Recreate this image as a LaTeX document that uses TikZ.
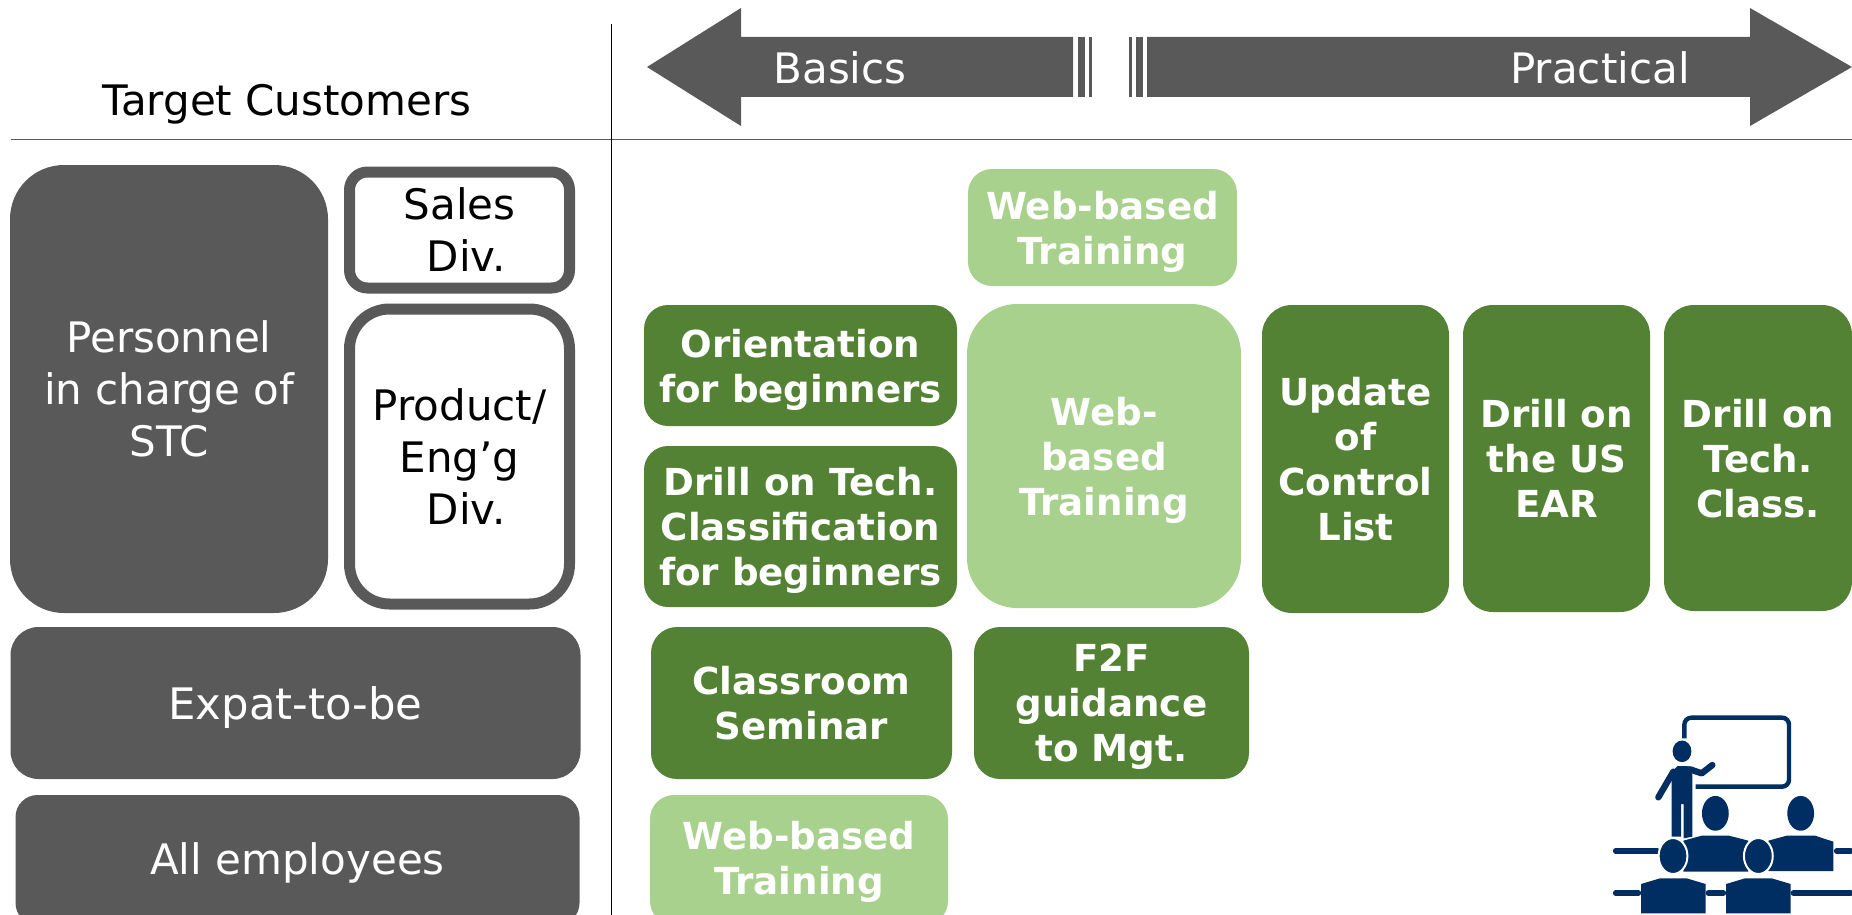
\documentclass[tikz,border=0pt]{standalone}
\usepackage{fontspec}
\setmainfont{DejaVu Sans}
\usepackage{xcolor}
\definecolor{greybox}{RGB}{89,89,89}
\definecolor{greenbox}{RGB}{84,130,53}
\definecolor{lightbox}{RGB}{169,209,142}
\definecolor{navyicon}{RGB}{0,45,98}
\tikzset{
	greytext/.style={font=\fontsize{21}{25.5}\selectfont,align=center,inner sep=0pt},
	box/.style={anchor=center,inner sep=0pt,align=center,text=white},
	customer/.style={box,fill=greybox,font=\fontsize{21}{26}\selectfont},
	division/.style={box,draw=greybox,fill=white,line width=5.5pt,text=black,font=\fontsize{21}{26}\selectfont},
	course/.style={box,fill=greenbox,font=\bfseries\fontsize{18.6}{22.5}\selectfont},
	webcourse/.style={box,fill=lightbox,font=\bfseries\fontsize{18.6}{22.5}\selectfont},
}
\begin{document}
\begin{tikzpicture}[x=0.5pt,y=-0.5pt]
	\useasboundingbox (0,0) rectangle (1852,915);
	
	% rules
	\coordinate (ruleL) at (11,140);
	\coordinate (ruleR) at (1852,140);
	\coordinate (ruleT) at (611,24);
	\coordinate (ruleB) at (611,915);
	\draw[greybox,line width=.5pt] (ruleL)--(ruleR);
	\draw[black,line width=.5pt] (ruleT)--(ruleB);
	
	% arrows
	\fill[greybox] (647,67)--(741,8)--(741,37)--(1073,37)--(1073,97)--(741,97)--(741,126)--cycle;
	\fill[greybox] (1077.5,37) rectangle (1085,97);
	\fill[greybox] (1088.5,37) rectangle (1092,97);
	\fill[greybox] (1128.5,37) rectangle (1132,97);
	\fill[greybox] (1136,37) rectangle (1143,97);
	\fill[greybox] (1852,67)--(1750,8)--(1750,37)--(1147,37)--(1147,97)--(1750,97)--(1750,126)--cycle;
	\node[greytext,text=white] (basics) at (840,68) {Basics};
	\node[greytext,text=white] (practical) at (1600,68) {Practical};
	\node[greytext,text depth=0.2pt] (target) at (287,100) {Target Customers};
	
	% customers
	\node[customer,text depth=-1.2pt,minimum width=159pt,minimum height=224pt,rounded corners=27pt] (personnel) at (169,389) {Personnel\\in charge of\\STC};
	\node[division,text depth=-1.2pt,minimum width=110pt,minimum height=58pt,rounded corners=9pt] (sales) at (459.5,230) {Sales\\\mbox{ }Div.};
	\node[division,text depth=-1.2pt,minimum width=110pt,minimum height=147.5pt,rounded corners=20pt] (product) at (459.5,456.5) {Product/\\Eng’g\\\mbox{ }Div.};
	\node[customer,text depth=-1pt,font=\fontsize{21.7}{26}\selectfont,minimum width=285pt,minimum height=76pt,rounded corners=14pt] (expat) at (295.5,703) {Expat-to-be};
	\node[customer,text depth=1.4pt,minimum width=282pt,minimum height=65pt,rounded corners=11pt] (allstaff) at (297.5,860) {All employees};
	
	% courses
	\node[webcourse,text depth=-.4pt,minimum width=134.5pt,minimum height=58.5pt,rounded corners=12pt] (webtop) at (1102.5,227.5) {Web-based\\Training};
	\node[course,text depth=-.4pt,minimum width=156.5pt,minimum height=60.5pt,rounded corners=12pt] (orient) at (800.5,365.5) {Orientation\\for beginners};
	\node[course,text depth=-.4pt,minimum width=156.5pt,minimum height=80.5pt,rounded corners=12pt] (drillbegin) at (800.5,526.5) {Drill on Tech.\\Classification\\for beginners};
	\node[webcourse,text depth=-.4pt,minimum width=137pt,minimum height=152pt,rounded corners=25pt] (webmid) at (1104,456) {Web-\\based\\Training};
	\node[course,text depth=-1pt,minimum width=93.5pt,minimum height=154pt,rounded corners=15pt] (update) at (1355.5,459) {Update\\of\\Control\\List};
	\node[course,text depth=-1.2pt,minimum width=93.5pt,minimum height=153.5pt,rounded corners=15pt] (drillus) at (1556.5,458.5) {Drill on\\the US\\EAR};
	\node[course,text depth=-1.2pt,minimum width=94pt,minimum height=153pt,rounded corners=15pt] (drilltech) at (1758,458) {Drill on\\Tech.\\Class.};
	\node[course,text depth=-3.6pt,minimum width=150.5pt,minimum height=76pt,rounded corners=13pt] (classroom) at (801.5,703) {Classroom\\Seminar};
	\node[course,text depth=-1.6pt,minimum width=137.5pt,minimum height=76pt,rounded corners=13pt] (guidance) at (1111.5,703) {F2F\\guidance\\to Mgt.};
	\node[webcourse,text depth=2.4pt,minimum width=149pt,minimum height=65pt,rounded corners=12pt] (webbottom) at (799,860) {Web-based\\Training};
	
	% lecture icon
	\begin{scope}[shift={(1580,690)},x=0.16667pt,y=-0.16667pt,navyicon]
		\draw[line width=2.2pt,rounded corners=3.5pt] (313,145)--(313,83)--(627,83)--(627,290)--(347,290);
		\fill (306,184) ellipse[x radius=4.7pt,y radius=5.4pt];
		\fill (275,245)--(293,228)--(320,228)--(337,232)--(337,440)--(311,445)--(311,342)--(303,342)--(303,440)--(275,440)--cycle;
		\draw[line width=3.2pt,line cap=round,line join=round] (280,245)--(235,322);
		\draw[line width=3.2pt,line cap=round,line join=round] (330,238)--(365,250)--(397,225);
		\draw[line width=2.8pt,line cap=round] (107,483)--(232,483) (770,483)--(812,483);
		\draw[line width=2.8pt,line cap=round] (107,609)--(175,609) (385,609)--(430,609) (640,609)--(812,609);
		\fill (310,452)--(365,437)--(447,437)--(505,452)--(505,545)--(310,545)--cycle;
		\fill (565,452)--(620,437)--(705,437)--(760,455)--(760,543)--(565,543)--cycle;
		\fill (406,370) ellipse[x radius=6.7pt,y radius=8.7pt];
		\fill (662,370) ellipse[x radius=6.7pt,y radius=8.7pt];
		\filldraw[draw=white,line width=1pt] (279,498) ellipse[x radius=7.2pt,y radius=9pt];
		\filldraw[draw=white,line width=1pt] (535,498) ellipse[x radius=7.2pt,y radius=9pt];
		\fill (183,582)--(240,565)--(320,565)--(377,582)--(377,670)--(183,670)--cycle;
		\fill (438,582)--(495,565)--(575,565)--(632,582)--(632,670)--(438,670)--cycle;
	\end{scope}
\end{tikzpicture}
\end{document}
